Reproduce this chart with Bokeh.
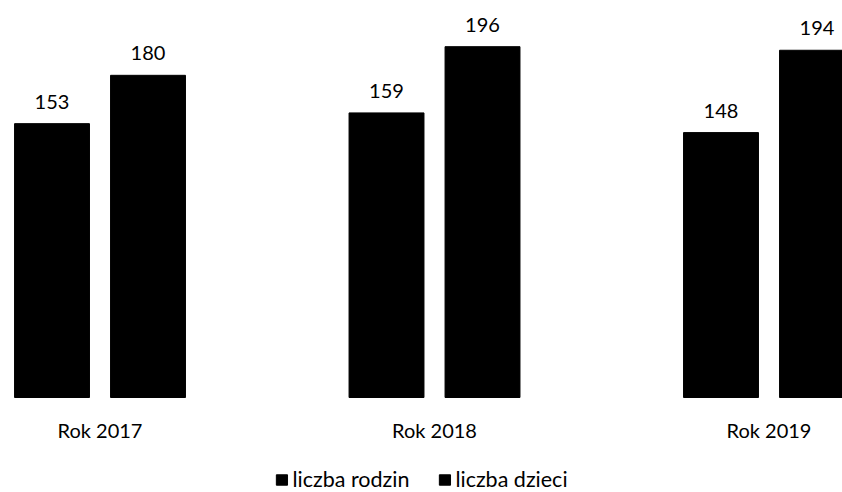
from bokeh.plotting import figure
from bokeh.models import (ColumnDataSource, Range1d, FixedTicker, LabelSet, Legend, LegendItem)
from bokeh.core.properties import value
from bokeh.transform import dodge
from bokeh.embed import file_html
from bokeh.resources import INLINE

years = ["Rok 2017", "Rok 2018", "Rok 2019"]
liczba_rodzin = [153, 159, 148]
liczba_dzieci = [180, 196, 194]
series_names = ["liczba rodzin", "liczba dzieci"]

idx = list(range(len(years)))
src = ColumnDataSource(dict(idx=idx, rodzin=liczba_rodzin, dzieci=liczba_dzieci,
                            rodzin_txt=[str(v) for v in liczba_rodzin],
                            dzieci_txt=[str(v) for v in liczba_dzieci]))

FONT = "Lato"
p = figure(width=842, height=492, frame_width=842, frame_height=492,
           output_backend="svg", toolbar_location=None,
           x_range=Range1d(-0.2975, 2.2197), y_range=Range1d(-53.07, 221.8),
           min_border=0, min_border_left=0, min_border_right=0,
           min_border_top=0, min_border_bottom=0)
p.outline_line_color = None
p.background_fill_color = "white"
p.border_fill_color = "white"
p.grid.visible = False
p.yaxis.visible = False

off = 0.1435
bw = 0.224
r1 = p.vbar(x=dodge("idx", -off, range=p.x_range), top="rodzin", width=bw, bottom=0,
            source=src, fill_color="black", line_color="black")
r2 = p.vbar(x=dodge("idx", off, range=p.x_range), top="dzieci", width=bw, bottom=0,
            source=src, fill_color="black", line_color="black")

for col, txt, sgn in (("rodzin", "rodzin_txt", -1), ("dzieci", "dzieci_txt", 1)):
    p.add_layout(LabelSet(x=dodge("idx", sgn * off, range=p.x_range), y=col, text=txt,
                          source=src, y_offset=15, text_align="center",
                          text_baseline="alphabetic", text_font=value(FONT),
                          text_font_size=value("20px"), text_color="black"))

ax = p.xaxis[0]
ax.fixed_location = 0
ax.ticker = FixedTicker(ticks=idx)
ax.major_label_overrides = {i: y for i, y in zip(idx, years)}
ax.axis_line_color = None
ax.major_tick_line_color = None
ax.minor_tick_line_color = None
ax.major_tick_out = 0
ax.major_tick_in = 0
ax.major_label_standoff = 20
ax.major_label_text_font = FONT
ax.major_label_text_font_size = "20px"
ax.major_label_text_color = "black"

legend = Legend(items=[LegendItem(label=series_names[0], renderers=[r1]),
                       LegendItem(label=series_names[1], renderers=[r2])],
                orientation="horizontal", location="bottom_center",
                label_text_font=FONT, label_text_font_size="21.5px",
                label_text_color="black", glyph_width=14, glyph_height=13,
                spacing=28, border_line_color=None, background_fill_alpha=0,
                padding=0, margin=0, label_standoff=4)
p.add_layout(legend, "center")

open("out.html", "w").write(file_html(p, INLINE))
